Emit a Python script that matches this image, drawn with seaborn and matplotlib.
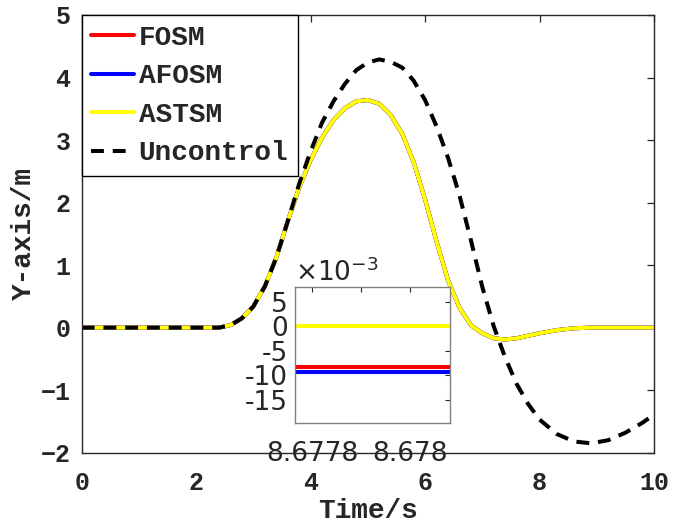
import matplotlib
matplotlib.use("Agg")
import matplotlib.pyplot as plt
import seaborn as sns
import numpy as np
import pandas as pd
from matplotlib.font_manager import FontProperties
from matplotlib.ticker import FuncFormatter, FixedLocator

# ---------------- data ----------------
time_s = [0, 0.5, 1, 1.5, 2, 2.4, 2.6, 2.8, 3.0, 3.2, 3.4, 3.6, 3.8, 4.0, 4.2,
          4.4, 4.6, 4.8, 5.0, 5.2, 5.4, 5.6, 5.8, 6.0, 6.2, 6.4, 6.6, 6.8,
          7.0, 7.2, 7.4, 7.6, 7.8, 8.0, 8.3, 8.6, 8.9, 9.2, 9.5, 9.8, 10]

astsm = [0, 0, 0, 0, 0, 0, 0.04, 0.15, 0.34, 0.66, 1.12, 1.70, 2.24, 2.68, 3.04,
         3.32, 3.51, 3.62, 3.64, 3.58, 3.40, 3.10, 2.65, 2.05, 1.38, 0.76, 0.32, 0.04,
         -0.09, -0.17, -0.19, -0.17, -0.13, -0.09, -0.04, -0.01, 0, 0, 0, 0, 0]
fosm = [0, 0, 0, 0, 0, 0, 0.04, 0.15, 0.34, 0.66, 1.12, 1.70, 2.24, 2.68, 3.04,
        3.32, 3.51, 3.62, 3.64, 3.58, 3.40, 3.10, 2.65, 2.05, 1.38, 0.76, 0.32, 0.04,
        -0.09, -0.17, -0.19, -0.17, -0.13, -0.09, -0.04, -0.01, 0, 0, 0, 0, 0]
afosm = [0, 0, 0, 0, 0, 0, 0.04, 0.15, 0.34, 0.66, 1.12, 1.70, 2.24, 2.68, 3.04,
         3.32, 3.51, 3.62, 3.64, 3.58, 3.40, 3.10, 2.65, 2.05, 1.38, 0.76, 0.32, 0.04,
         -0.09, -0.17, -0.19, -0.17, -0.13, -0.09, -0.04, -0.01, 0, 0, 0, 0, 0]
uncontrol = [0, 0, 0, 0, 0, 0, 0.04, 0.15, 0.34, 0.66, 1.12, 1.70, 2.30, 2.82, 3.28,
             3.62, 3.90, 4.12, 4.24, 4.29, 4.25, 4.16, 3.95, 3.64, 3.22, 2.72, 2.12, 1.40,
             0.65, 0.02, -0.48, -0.90, -1.22, -1.47, -1.70, -1.82, -1.85, -1.80, -1.68, -1.52, -1.39]

# inset (zoom around t = 8.678 s)
inset_t = [8.677764, 8.678083]
inset_fosm = [-8.3e-3, -8.3e-3]
inset_afosm = [-9.3e-3, -9.3e-3]
inset_astsm = [0.0, 0.0]

labels = ["FOSM", "AFOSM", "ASTSM", "Uncontrol"]
colors = ["#ff0000", "#0000ff", "#ffff00", "#000000"]

main_xticks = [0, 2, 4, 6, 8, 10]
main_yticks = [-2, -1, 0, 1, 2, 3, 4, 5]
inset_xticks = [8.6778, 8.6779, 8.678]
inset_xticklabels = ["8.6778", "", "8.678"]
inset_yticks = [-15e-3, -10e-3, -5e-3, 0, 5e-3]

# ---------------- style ----------------
sns.set_theme(style="white")
plt.rcParams["font.family"] = ["Liberation Mono", "DejaVu Sans"]
plt.rcParams["mathtext.fontset"] = "dejavusans"

W, H = 673, 528
fig = plt.figure(figsize=(W / 100, H / 100), dpi=100)
fig.patch.set_facecolor("white")

ax = fig.add_axes([81.7 / W, 1 - 452.7 / H, (654 - 81.7) / W, (452.7 - 15) / H])

df = pd.DataFrame({"t": time_s, "FOSM": fosm, "AFOSM": afosm,
                   "ASTSM": astsm, "Uncontrol": uncontrol})
LW = 2.9
for name, c in zip(labels, colors):
    sns.lineplot(data=df, x="t", y=name, ax=ax, color=c, lw=LW,
                 estimator=None, label=name, legend=False)
ax.lines[-1].set_dashes((3.2, 2.2))

ax.set_xlim(0, 10)
ax.set_ylim(-2, 5)
ax.set_xticks(main_xticks)
ax.set_yticks(main_yticks)

tick_fp = FontProperties(family="Liberation Mono", weight="bold", size=18)
ax.tick_params(axis="both", which="both", direction="in", length=5, width=0.9,
               top=True, right=True, color="#262626")
ax.tick_params(axis="x", pad=13)
ax.tick_params(axis="y", pad=8)
for lab in ax.get_xticklabels() + ax.get_yticklabels():
    lab.set_fontproperties(tick_fp)
    lab.set_color("#262626")
for sp in ax.spines.values():
    sp.set_color("#262626")
    sp.set_linewidth(1.0)

lab_fp = FontProperties(family="Liberation Mono", weight="bold", size=20)
ax.set_xlabel("Time/s", fontproperties=lab_fp, color="#262626", labelpad=2)
ax.set_ylabel("Y-axis/m", fontproperties=lab_fp, color="#262626", labelpad=3)

leg = ax.legend(loc="upper left", bbox_to_anchor=(0, 1), borderaxespad=0,
                fancybox=False, edgecolor="black", framealpha=1,
                prop=FontProperties(family="Liberation Mono", weight="bold", size=20),
                handlelength=1.55, handletextpad=0.15, labelspacing=0.45,
                borderpad=0.35)
leg.get_frame().set_linewidth(1.0)

# ---------------- inset ----------------
axin = fig.add_axes([295 / W, 1 - 422.7 / H, 155 / W, (422.7 - 287.3) / H])
idf = pd.DataFrame({"t": inset_t, "FOSM": inset_fosm, "AFOSM": inset_afosm,
                    "ASTSM": inset_astsm})
for name, c in zip(labels[:3], colors[:3]):
    sns.lineplot(data=idf, x="t", y=name, ax=axin, color=c, lw=LW,
                 estimator=None, legend=False)
axin.set_xlim(inset_t[0], inset_t[1])
axin.set_ylim(-19.7e-3, 7.9e-3)
axin.xaxis.set_major_locator(FixedLocator(inset_xticks))
axin.set_xticklabels(inset_xticklabels)
axin.set_yticks(inset_yticks)
axin.yaxis.set_major_formatter(FuncFormatter(lambda v, p: f"{v * 1e3:.0f}"))
axin.set_xlabel("")
axin.set_ylabel("")
axin.tick_params(axis="both", direction="in", length=3.5, width=0.8,
                 top=True, right=True, color="#262626", labelsize=19,
                 labelcolor="#262626")
axin.tick_params(axis="x", pad=13)
axin.tick_params(axis="y", pad=5)
for lab in axin.get_xticklabels() + axin.get_yticklabels():
    lab.set_family("DejaVu Sans")
for sp in axin.spines.values():
    sp.set_color("#808080")
    sp.set_linewidth(1.0)
axin.set_facecolor("white")
axin.text(0.0, 1.0, r"$\times\mathregular{10^{-3}}$", transform=axin.transAxes,
          ha="left", va="bottom", fontsize=19, color="#262626",
          family="DejaVu Sans")

fig.savefig("out.png", dpi=100, facecolor="white")
